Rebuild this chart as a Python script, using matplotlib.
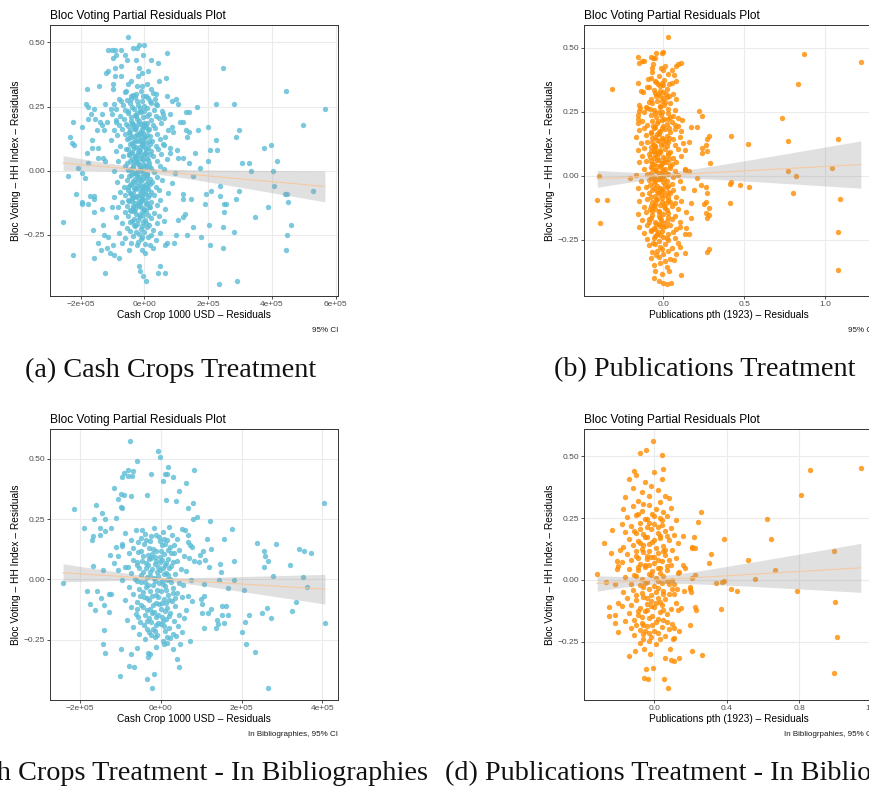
import numpy as np
import matplotlib
matplotlib.use("Agg")
import matplotlib.pyplot as plt

W, H = 870, 790

CYAN = "#5BBCD6"
ORANGE = "#FF8C00"
FIT_LINE = "#F6C9A0"

TITLE = "Bloc Voting Partial Residuals Plot"
YLABEL = "Bloc Voting \u2013 HH Index \u2013 Residuals"
XLABEL_CASH = "Cash Crop 1000 USD \u2013 Residuals"
XLABEL_PUB = "Publications pth (1923) \u2013 Residuals"

# cash crop residuals are typed in units of 1e5 (1000 USD)
X_SCALE_CASH = 1e5

# (a) cash crops, all units
cash_pts = [
    (-0.52, 0.52), (-0.37, 0.48), (-0.22, 0.48), (-0.16, 0.49), (-0.02, 0.49),
    (-1.15, 0.47), (-1.03, 0.47), (-0.92, 0.47), (-0.73, 0.47), (0.71, 0.46),
    (-0.62, 0.45), (-0.97, 0.44), (-0.90, 0.45), (-0.03, 0.45), (-0.54, 0.43),
    (0.20, 0.43), (0.42, 0.42), (-0.27, 0.43), (2.48, 0.40), (-0.73, 0.41),
    (-0.91, 0.40), (-0.18, 0.40), (-1.14, 0.39), (0.10, 0.39), (-1.21, 0.38),
    (-0.92, 0.37), (-0.74, 0.37), (-0.19, 0.37), (-0.08, 0.38), (0.67, 0.36),
    (0.47, 0.35), (-0.42, 0.35), (-0.51, 0.34), (-1.42, 0.33), (-1.00, 0.34),
    (-0.22, 0.33), (-0.07, 0.33), (0.07, 0.34), (0.21, 0.32), (-1.81, 0.32),
    (4.45, 0.31), (-0.57, 0.31), (-1.00, 0.32), (-0.26, 0.30), (0.36, 0.30),
    (-0.03, 0.29), (-0.43, 0.29), (0.70, 0.29), (0.99, 0.28), (-0.43, 0.28),
    (-0.72, 0.27), (0.18, 0.27), (-0.22, 0.27), (0.87, 0.27), (1.05, 0.26),
    (0.36, 0.26), (-1.84, 0.26), (-1.76, 0.25), (-1.25, 0.26), (-1.06, 0.24),
    (2.24, 0.26), (2.82, 0.26), (1.64, 0.25), (5.66, 0.24), (-1.59, 0.24),
    (-1.32, 0.22), (-1.68, 0.22), (1.30, 0.23), (1.41, 0.23), (0.58, 0.22),
    (0.81, 0.22), (-1.78, 0.20), (-1.55, 0.20), (-1.32, 0.18), (-1.39, 0.19),
    (-1.17, 0.19), (-0.90, 0.19), (1.13, 0.19), (1.22, 0.19), (-2.25, 0.19),
    (2.00, 0.17), (4.98, 0.18), (-1.97, 0.17), (-1.50, 0.16), (-1.26, 0.16),
    (1.69, 0.16), (1.29, 0.16), (1.39, 0.15), (0.91, 0.15), (0.75, 0.16),
    (2.98, 0.16), (-2.34, 0.13), (-2.27, 0.11), (-2.22, 0.10), (-1.65, 0.12),
    (1.35, 0.13), (2.24, 0.12), (2.86, 0.13), (3.96, 0.10), (-1.63, 0.09),
    (-1.81, 0.07), (-1.47, 0.09), (0.61, 0.10), (0.79, 0.09), (2.05, 0.08),
    (2.27, 0.08), (3.75, 0.09), (1.02, 0.08), (1.58, 0.07), (1.20, 0.05),
    (1.06, 0.05), (1.41, 0.03), (1.99, 0.04), (3.05, 0.03), (3.29, 0.03),
    (4.17, 0.04), (-1.46, 0.05), (-1.30, 0.05), (-1.24, 0.04), (-1.78, 0.03),
    (-2.08, 0.01), (1.75, 0.01), (3.34, 0.00), (4.02, 0.00), (-2.41, -0.02),
    (-1.96, -0.01), (-1.87, -0.03), (1.52, -0.02), (2.36, -0.06), (4.05, -0.06),
    (5.30, -0.08), (4.40, -0.09), (4.48, -0.09), (2.09, -0.08), (1.92, -0.09),
    (2.96, -0.08), (-2.16, -0.09), (-1.96, -0.12), (-1.97, -0.13), (-1.77, -0.13),
    (-1.72, -0.10), (-1.57, -0.10), (-1.58, -0.11), (2.38, -0.10), (2.87, -0.11),
    (2.50, -0.13), (2.56, -0.13), (4.51, -0.12), (1.91, -0.13), (3.86, -0.14),
    (1.46, -0.11), (1.20, -0.09), (1.20, -0.11), (2.49, -0.16), (3.47, -0.18),
    (-1.58, -0.16), (-1.33, -0.15), (-1.02, -0.14), (1.27, -0.17), (1.20, -0.18),
    (1.05, -0.19), (-2.55, -0.20), (4.61, -0.21), (-1.31, -0.21), (-1.62, -0.23),
    (-1.27, -0.25), (-1.14, -0.26), (1.52, -0.22), (2.02, -0.21), (2.46, -0.22),
    (2.80, -0.24), (1.33, -0.25), (0.99, -0.25), (1.77, -0.26), (4.46, -0.25),
    (-1.46, -0.28), (-0.97, -0.29), (-1.18, -0.30), (-1.36, -0.31), (-1.08, -0.32),
    (-0.71, -0.28), (-0.48, -0.31), (-2.24, -0.33), (-1.59, -0.34), (-0.95, -0.33),
    (-0.81, -0.34), (2.06, -0.29), (2.48, -0.30), (4.45, -0.31), (0.93, -0.28),
    (0.70, -0.28), (0.65, -0.29), (-1.24, -0.40), (-0.16, -0.37), (-0.14, -0.39),
    (-0.03, -0.41), (0.04, -0.43), (0.48, -0.37), (0.42, -0.40), (0.64, -0.40),
    (2.34, -0.44), (2.90, -0.43), (-0.07, -0.31), (0.01, -0.32), (-0.22, -0.29),
    (0.16, -0.29), (0.27, -0.30),
    # central cloud
    (-0.62, 0.305), (-0.35, 0.296), (-0.12, 0.312), (0.05, 0.291), (0.28, 0.303),
    (-0.80, 0.281), (-0.55, 0.276), (-0.30, 0.287), (-0.08, 0.272), (0.12, 0.284),
    (0.33, 0.278), (-0.95, 0.262), (-0.68, 0.255), (-0.45, 0.266), (-0.20, 0.258),
    (0.00, 0.251), (0.22, 0.263), (0.40, 0.257), (-0.88, 0.242), (-0.60, 0.236),
    (-0.38, 0.247), (-0.15, 0.233), (0.08, 0.244), (0.30, 0.238), (0.55, 0.231),
    (-1.02, 0.221), (-0.75, 0.214), (-0.52, 0.226), (-0.28, 0.218), (-0.05, 0.209),
    (0.15, 0.223), (0.36, 0.215), (0.60, 0.206), (-0.90, 0.197), (-0.65, 0.203),
    (-0.42, 0.192), (-0.22, 0.201), (-0.02, 0.188), (0.20, 0.196), (0.45, 0.204),
    (-0.80, 0.178), (-0.58, 0.184), (-0.35, 0.173), (-0.12, 0.181), (0.06, 0.169),
    (0.28, 0.177), (0.52, 0.185), (0.85, 0.172), (-0.95, 0.158), (-0.70, 0.164),
    (-0.48, 0.153), (-0.28, 0.161), (-0.10, 0.149), (0.10, 0.157), (0.32, 0.166),
    (-0.85, 0.138), (-0.62, 0.144), (-0.40, 0.133), (-0.20, 0.141), (-0.02, 0.128),
    (0.18, 0.137), (0.40, 0.145), (0.65, 0.131), (-1.05, 0.118), (-0.55, 0.124),
    (-0.33, 0.113), (-0.15, 0.121), (0.05, 0.109), (0.25, 0.117), (0.48, 0.125),
    (-0.75, 0.098), (-0.45, 0.104), (-0.25, 0.093), (-0.08, 0.101), (0.12, 0.089),
    (0.35, 0.097), (0.58, 0.105), (-0.90, 0.078), (-0.58, 0.084), (-0.38, 0.073),
    (-0.18, 0.081), (0.02, 0.069), (0.20, 0.077), (0.42, 0.085), (0.80, 0.071),
    (-0.68, 0.058), (-0.48, 0.064), (-0.30, 0.053), (-0.12, 0.061), (0.08, 0.049),
    (0.28, 0.057), (0.52, 0.065), (-0.82, 0.038), (-0.40, 0.044), (-0.22, 0.033),
    (-0.05, 0.041), (0.15, 0.029), (0.38, 0.037), (0.70, 0.045), (-0.60, 0.018),
    (-0.35, 0.024), (-0.15, 0.013), (0.02, 0.021), (0.22, 0.009), (0.48, 0.017),
    (-0.95, -0.002), (-0.50, 0.004), (-0.28, -0.007), (-0.10, 0.001), (0.08, -0.011),
    (0.30, -0.003), (0.62, 0.005), (0.95, -0.008), (-0.72, -0.022), (-0.42, -0.016),
    (-0.20, -0.027), (-0.02, -0.019), (0.18, -0.031), (0.40, -0.023), (-0.85, -0.042),
    (-0.55, -0.036), (-0.32, -0.047), (-0.12, -0.039), (0.05, -0.051), (0.25, -0.043),
    (0.55, -0.035), (0.88, -0.048), (-0.65, -0.062), (-0.45, -0.056), (-0.25, -0.067),
    (-0.05, -0.059), (0.12, -0.071), (0.35, -0.063), (-0.78, -0.082), (-0.52, -0.076),
    (-0.35, -0.087), (-0.15, -0.079), (0.02, -0.091), (0.20, -0.083), (0.45, -0.075),
    (0.75, -0.088), (-0.95, -0.102), (-0.60, -0.096), (-0.40, -0.107), (-0.22, -0.099),
    (-0.08, -0.111), (0.10, -0.103), (0.30, -0.095), (-0.70, -0.122), (-0.48, -0.116),
    (-0.30, -0.127), (-0.12, -0.119), (0.05, -0.131), (0.22, -0.123), (0.50, -0.115),
    (-0.82, -0.142), (-0.55, -0.136), (-0.35, -0.147), (-0.18, -0.139), (0.00, -0.151),
    (0.15, -0.143), (0.38, -0.135), (0.65, -0.148), (-0.62, -0.162), (-0.42, -0.156),
    (-0.25, -0.167), (-0.08, -0.159), (0.10, -0.171), (0.30, -0.163), (-0.90, -0.182),
    (-0.50, -0.176), (-0.32, -0.187), (-0.15, -0.179), (0.02, -0.191), (0.20, -0.183),
    (0.45, -0.175), (-0.70, -0.202), (-0.40, -0.196), (-0.22, -0.207), (-0.05, -0.199),
    (0.15, -0.211), (0.38, -0.203), (0.62, -0.195), (-0.55, -0.222), (-0.30, -0.216),
    (-0.10, -0.227), (0.08, -0.219), (0.28, -0.231), (-0.80, -0.242), (-0.45, -0.236),
    (-0.18, -0.247), (0.00, -0.239), (0.20, -0.251), (0.50, -0.243), (-0.60, -0.262),
    (-0.35, -0.256), (-0.12, -0.267), (0.10, -0.259), (0.35, -0.271), (-0.42, -0.282),
    (-0.20, -0.276), (0.02, -0.287),
    (-0.40, 0.185), (-0.31, 0.162), (-0.17, 0.195), (-0.05, 0.171), (0.09, 0.188),
    (-0.44, 0.142), (-0.27, 0.118), (-0.13, 0.152), (0.01, 0.133), (0.13, 0.115),
    (-0.36, 0.096), (-0.21, 0.072), (-0.07, 0.108), (0.06, 0.086), (-0.47, 0.062),
    (-0.33, 0.034), (-0.18, 0.051), (-0.03, 0.022), (0.11, 0.041), (-0.41, 0.007),
    (-0.26, -0.012), (-0.11, 0.011), (0.04, -0.028), (-0.37, -0.041), (-0.19, -0.058),
    (-0.06, -0.032), (0.09, -0.062), (-0.45, -0.088), (-0.29, -0.072), (-0.14, -0.096),
    (0.01, -0.082), (-0.38, -0.118), (-0.23, -0.134), (-0.09, -0.111), (0.07, -0.127),
    (-0.33, -0.158), (-0.17, -0.171), (-0.02, -0.149), (-0.27, 0.212), (-0.10, 0.228),
    (-0.23, 0.145), (-0.15, 0.092), (-0.30, 0.058), (0.00, 0.062), (-0.22, -0.003),
    (-0.08, -0.074), (-0.35, -0.102), (-0.12, -0.143), (-0.20, 0.026), (-0.04, 0.147),
    (-0.51, 0.231), (-0.43, 0.208), (-0.34, 0.239), (-0.24, 0.226), (-0.14, 0.246),
    (-0.01, 0.232), (0.07, 0.214), (-0.53, 0.176), (-0.46, 0.158), (-0.37, 0.181),
    (-0.26, 0.169), (-0.19, 0.183), (-0.09, 0.164), (0.03, 0.179), (0.14, 0.161),
    (-0.49, 0.127), (-0.39, 0.109), (-0.29, 0.137), (-0.21, 0.116), (-0.11, 0.131),
    (-0.04, 0.112), (0.09, 0.138), (0.19, 0.104), (-0.52, 0.083), (-0.43, 0.071),
    (-0.32, 0.088), (-0.24, 0.062), (-0.13, 0.078), (-0.02, 0.094), (0.05, 0.071),
    (0.16, 0.067), (-0.55, 0.029), (-0.45, 0.038), (-0.36, 0.015), (-0.27, 0.041),
    (-0.16, 0.027), (-0.07, 0.046), (0.05, 0.013), (0.13, 0.018), (-0.48, -0.021),
    (-0.39, -0.009), (-0.31, -0.031), (-0.23, -0.018), (-0.13, -0.024), (-0.04, -0.008),
    (0.07, -0.017), (0.17, -0.052), (-0.53, -0.064), (-0.42, -0.053), (-0.33, -0.069),
    (-0.21, -0.044), (-0.11, -0.058), (-0.01, -0.067), (0.10, -0.044), (-0.50, -0.112),
    (-0.41, -0.091), (-0.27, -0.101), (-0.18, -0.118), (-0.06, -0.096), (0.03, -0.114),
    (0.14, -0.094), (-0.46, -0.151), (-0.37, -0.137), (-0.28, -0.149), (-0.14, -0.127),
    (-0.05, -0.171), (0.06, -0.156), (0.18, -0.141), (-0.44, -0.198), (-0.33, -0.211),
    (-0.19, -0.193), (-0.09, -0.216), (0.04, -0.204), (-0.27, -0.239), (-0.06, -0.258),
]

# (b) publications, all units
pub_pts = [
    (0.025, 0.54), (0.87, 0.475), (1.22, 0.445), (-0.32, 0.34), (0.83, 0.356),
    (0.73, 0.224), (0.77, 0.135), (1.08, 0.142), (0.52, 0.122), (0.42, 0.154),
    (0.22, 0.254), (0.24, 0.232), (0.17, 0.19), (0.21, 0.19), (0.16, 0.13),
    (0.13, 0.10), (0.28, 0.154), (0.27, 0.144), (0.26, 0.12), (0.24, 0.11),
    (0.27, 0.095), (0.24, 0.09), (0.29, 0.05), (0.77, 0.02), (1.04, 0.03),
    (0.82, 0.0), (-0.40, 0.0), (-0.21, -0.01), (-0.41, -0.095), (-0.35, -0.095),
    (-0.39, -0.185), (0.42, -0.026), (0.41, -0.034), (0.47, -0.036), (0.53, -0.044),
    (0.80, -0.066), (1.09, -0.092), (0.41, -0.108), (1.08, -0.219), (1.08, -0.367),
    (0.23, -0.036), (0.26, -0.044), (0.19, -0.056), (0.27, -0.067), (0.17, -0.108),
    (0.25, -0.111), (0.26, -0.104), (0.28, -0.127), (0.26, -0.144), (0.28, -0.154),
    (0.27, -0.166), (0.17, -0.166), (0.14, -0.141), (0.14, -0.205), (0.16, -0.228),
    (0.10, -0.199), (0.13, -0.228), (0.28, -0.284), (0.27, -0.297), (0.13, -0.30),
    (0.09, -0.264), (0.10, -0.277), (0.075, -0.306), (0.066, -0.328), (0.033, -0.373),
    (0.108, -0.386), (0.046, -0.417), (0.02, -0.421), (0.21, -0.009), (0.16, 0.018),
    (0.13, 0.022),
    # upper part of the stripe
    (-0.155, 0.464), (-0.13, 0.446), (-0.15, 0.438), (-0.12, 0.448), (-0.075, 0.464),
    (-0.066, 0.459), (-0.048, 0.477), (-0.05, 0.459), (-0.01, 0.478), (0.0, 0.482),
    (-0.064, 0.435), (-0.068, 0.42), (-0.017, 0.42), (-0.004, 0.413), (0.052, 0.413),
    (0.087, 0.435), (0.106, 0.438), (0.075, 0.427), (0.064, 0.394), (0.075, 0.37),
    (0.033, 0.358), (0.004, 0.374), (-0.004, 0.355), (-0.048, 0.364), (-0.037, 0.358),
    (-0.079, 0.381), (-0.095, 0.377), (-0.156, 0.363), (-0.124, 0.328), (-0.035, 0.319),
    (-0.023, 0.329), (0.0, 0.326), (0.017, 0.32), (0.056, 0.319), (0.033, 0.312),
    (0.075, 0.298), (-0.021, 0.312), (-0.044, 0.313), (-0.012, 0.29), (0.002, 0.277),
    (0.01, 0.289), (-0.021, 0.269), (-0.154, 0.277), (-0.151, 0.251), (-0.147, 0.264),
    (-0.158, 0.238), (-0.16, 0.222), (-0.122, 0.249), (-0.102, 0.264), (-0.091, 0.288),
    (-0.075, 0.238), (-0.054, 0.245), (0.039, 0.228), (0.06, 0.232), (0.087, 0.225),
    (0.071, 0.199), (0.112, 0.219),
    (-0.14, 0.33), (-0.10, 0.345), (-0.06, 0.335), (-0.02, 0.352), (0.02, 0.34),
    (0.05, 0.36), (-0.08, 0.30), (-0.04, 0.29), (0.00, 0.305), (0.04, 0.285),
    (-0.11, 0.27), (-0.06, 0.258), (-0.01, 0.248), (0.03, 0.262), (0.07, 0.255),
    (-0.03, 0.39), (-0.07, 0.405), (0.01, 0.43), (-0.05, 0.37), (0.03, 0.395),
    # middle of the stripe
    (-0.16, 0.205), (-0.13, 0.212), (-0.10, 0.198), (-0.07, 0.215), (-0.04, 0.205),
    (-0.01, 0.219), (0.02, 0.201), (0.05, 0.211), (0.09, 0.196), (-0.15, 0.178),
    (-0.12, 0.185), (-0.08, 0.172), (-0.05, 0.189), (-0.02, 0.176), (0.01, 0.183),
    (0.04, 0.171), (0.07, 0.181), (0.11, 0.175), (-0.17, 0.152), (-0.11, 0.158),
    (-0.07, 0.147), (-0.04, 0.161), (-0.01, 0.149), (0.02, 0.157), (0.06, 0.144),
    (0.10, 0.153), (-0.14, 0.128), (-0.10, 0.133), (-0.06, 0.121), (-0.03, 0.137),
    (0.00, 0.125), (0.03, 0.131), (0.07, 0.119), (0.12, 0.128), (-0.16, 0.102),
    (-0.12, 0.108), (-0.08, 0.097), (-0.05, 0.111), (-0.02, 0.099), (0.01, 0.106),
    (0.04, 0.094), (0.09, 0.103), (-0.13, 0.078), (-0.09, 0.083), (-0.06, 0.071),
    (-0.03, 0.087), (0.00, 0.075), (0.03, 0.081), (0.06, 0.069), (0.11, 0.079),
    (-0.15, 0.052), (-0.11, 0.058), (-0.07, 0.047), (-0.04, 0.061), (-0.01, 0.049),
    (0.02, 0.055), (0.05, 0.044), (0.08, 0.053), (-0.12, 0.028), (-0.08, 0.033),
    (-0.05, 0.021), (-0.02, 0.036), (0.01, 0.025), (0.04, 0.031), (0.07, 0.019),
    (0.13, 0.027), (-0.17, 0.004), (-0.10, 0.008), (-0.06, -0.003), (-0.03, 0.011),
    (0.00, -0.001), (0.03, 0.006), (0.06, -0.006), (0.09, 0.003),
    # lower part of the stripe
    (-0.14, -0.022), (-0.09, -0.017), (-0.06, -0.029), (-0.03, -0.014), (0.00, -0.026),
    (0.02, -0.019), (0.05, -0.031), (0.10, -0.022), (-0.16, -0.048), (-0.11, -0.042),
    (-0.07, -0.054), (-0.04, -0.039), (-0.01, -0.051), (0.02, -0.044), (0.06, -0.056),
    (0.12, -0.047), (-0.13, -0.073), (-0.09, -0.067), (-0.05, -0.079), (-0.02, -0.064),
    (0.01, -0.076), (0.04, -0.069), (0.08, -0.081), (-0.15, -0.098), (-0.10, -0.092),
    (-0.07, -0.104), (-0.04, -0.089), (-0.01, -0.101), (0.03, -0.094), (0.07, -0.106),
    (0.11, -0.097), (-0.12, -0.123), (-0.08, -0.117), (-0.05, -0.129), (-0.02, -0.114),
    (0.01, -0.126), (0.05, -0.119), (0.09, -0.131), (-0.16, -0.148), (-0.11, -0.142),
    (-0.07, -0.154), (-0.03, -0.139), (0.00, -0.151), (0.03, -0.144), (0.07, -0.156),
    (-0.13, -0.173), (-0.09, -0.167), (-0.05, -0.179), (-0.02, -0.164), (0.02, -0.176),
    (0.05, -0.169), (0.10, -0.181), (-0.15, -0.198), (-0.10, -0.192), (-0.06, -0.204),
    (-0.03, -0.189), (0.00, -0.201), (0.04, -0.194), (0.08, -0.206), (-0.12, -0.223),
    (-0.08, -0.217), (-0.04, -0.229), (-0.01, -0.214), (0.03, -0.226), (0.06, -0.219),
    (-0.10, -0.248), (-0.06, -0.242), (-0.03, -0.254), (0.00, -0.239), (0.03, -0.251),
    (0.07, -0.244), (-0.09, -0.272), (-0.05, -0.266), (-0.02, -0.279), (0.01, -0.268),
    (0.05, -0.281), (-0.07, -0.298), (-0.04, -0.292), (0.00, -0.304), (0.03, -0.295),
    (-0.08, -0.322), (-0.03, -0.318), (0.01, -0.331), (0.04, -0.325), (-0.06, -0.348),
    (-0.02, -0.342), (0.02, -0.356), (-0.05, -0.372), (-0.01, -0.384), (-0.06, -0.398),
    (-0.03, -0.41), (0.00, -0.418),
    (-0.06, 0.185), (-0.03, 0.163), (0.00, 0.142), (-0.05, 0.118), (-0.02, 0.091),
    (0.01, 0.067), (-0.04, 0.038), (-0.01, 0.014), (-0.06, -0.011), (0.01, -0.037),
    (-0.04, -0.061), (-0.01, -0.086), (-0.05, -0.109), (0.02, -0.134), (-0.03, -0.158),
    (0.00, -0.183), (-0.05, -0.209), (-0.02, -0.232), (-0.07, 0.132), (-0.08, 0.058),
    (-0.07, -0.137), (-0.09, -0.182), (-0.03, 0.248), (0.00, 0.196), (-0.06, 0.095),
    (0.02, 0.115), (-0.02, -0.048), (0.03, -0.081), (-0.08, 0.009), (-0.04, 0.076),
    (-0.085, 0.262), (-0.045, 0.228), (-0.015, 0.236), (0.025, 0.244), (-0.065, 0.195),
    (-0.035, 0.212), (0.005, 0.222), (0.035, 0.188), (-0.08, 0.165), (-0.055, 0.152),
    (-0.025, 0.171), (0.015, 0.137), (0.035, 0.149), (-0.075, 0.114), (-0.045, 0.098),
    (-0.015, 0.121), (0.025, 0.089), (-0.085, 0.072), (-0.055, 0.083), (-0.025, 0.061),
    (0.005, 0.052), (0.035, 0.064), (-0.07, 0.031), (-0.045, 0.017), (-0.015, 0.041),
    (0.015, 0.012), (0.04, 0.038), (-0.08, -0.008), (-0.05, -0.021), (-0.02, -0.004),
    (0.005, -0.013), (0.03, -0.041), (-0.085, -0.038), (-0.06, -0.047), (-0.035, -0.069),
    (-0.005, -0.058), (0.025, -0.063), (-0.075, -0.082), (-0.045, -0.096), (-0.015, -0.074),
    (0.015, -0.107), (0.04, -0.101), (-0.085, -0.128), (-0.06, -0.117), (-0.03, -0.141),
    (0.005, -0.119), (0.03, -0.161), (-0.075, -0.166), (-0.045, -0.187), (-0.015, -0.172),
    (0.015, -0.196), (-0.08, -0.211), (-0.05, -0.236), (-0.02, -0.197), (0.02, -0.241),
    (-0.065, -0.262), (-0.035, -0.221), (-0.01, -0.286), (-0.045, -0.311), (-0.07, 0.285),
    (-0.02, 0.272), (0.02, 0.308), (-0.05, 0.322), (-0.09, 0.345), (-0.01, 0.362),
    (0.03, 0.222), (-0.06, 0.044), (-0.03, -0.012), (-0.01, 0.186), (-0.04, 0.138),
    (0.00, 0.024),
]

# (c) cash crops, units in bibliographies
cash_bib_pts = [
    (-0.76, 0.572), (-0.08, 0.53), (-0.02, 0.508), (-0.59, 0.489), (-0.92, 0.441),
    (-0.81, 0.452), (-0.70, 0.45), (-0.82, 0.427), (-0.96, 0.423), (-0.72, 0.427),
    (-0.25, 0.436), (0.17, 0.464), (0.11, 0.436), (0.16, 0.438), (0.06, 0.407),
    (0.29, 0.423), (0.82, 0.452), (-1.17, 0.377), (-0.98, 0.355), (-1.06, 0.331),
    (-0.92, 0.348), (-0.75, 0.344), (-0.99, 0.30), (-0.96, 0.297), (0.45, 0.365),
    (0.62, 0.399), (0.37, 0.323), (0.12, 0.33), (0.79, 0.315), (0.66, 0.294),
    (-0.34, 0.348), (-1.60, 0.309), (-2.14, 0.29), (-1.45, 0.273), (-1.66, 0.249),
    (-1.39, 0.251), (-1.11, 0.254), (-1.90, 0.213), (-1.67, 0.18), (-1.70, 0.164),
    (-1.51, 0.214), (-1.51, 0.184), (-1.38, 0.202), (-1.23, 0.213), (-1.11, 0.133),
    (-0.96, 0.146), (-1.27, 0.10), (-1.06, 0.098), (-1.16, 0.066), (-1.05, 0.039),
    (-0.82, 0.051), (-1.43, 0.039), (-1.68, 0.055), (-2.42, -0.014), (-1.83, -0.048),
    (-1.58, -0.05), (-1.76, -0.102), (-1.62, -0.128), (-1.49, -0.079), (-1.40, -0.105),
    (-1.28, -0.062), (-1.23, -0.061), (-1.28, -0.134), (-1.41, -0.21), (-1.43, -0.267),
    (-1.39, -0.307), (-0.99, -0.29), (-1.01, -0.40), (-0.78, -0.358), (-0.67, -0.365),
    (-0.59, -0.285), (-0.31, -0.304), (-0.33, -0.322), (-0.28, -0.311), (-0.17, -0.392),
    (-0.35, -0.413), (-0.21, -0.449), (-0.75, -0.309), (0.07, -0.267), (0.16, -0.262),
    (0.31, -0.29), (0.40, -0.331), (0.46, -0.363), (-0.12, -0.279), (0.48, -0.27),
    (0.72, -0.254), (0.38, -0.233), (0.53, -0.218), (1.07, -0.20), (1.37, -0.20),
    (1.41, -0.186), (1.56, -0.181), (1.38, -0.17), (1.17, -0.14), (1.02, -0.141),
    (1.25, -0.124), (1.03, -0.102), (0.77, -0.091), (1.00, -0.081), (1.07, -0.069),
    (1.52, -0.11), (1.60, -0.11), (1.65, -0.146), (1.52, -0.148), (2.02, -0.22),
    (2.07, -0.175), (2.10, -0.268), (2.19, -0.149), (2.33, -0.302), (2.50, -0.141),
    (2.63, -0.117), (2.72, -0.162), (2.64, -0.449), (3.24, -0.13), (3.35, -0.095),
    (4.06, -0.181), (4.04, 0.318), (3.41, 0.124), (3.54, 0.116), (3.71, 0.108),
    (3.20, 0.058), (3.52, 0.011), (3.61, -0.033), (2.56, 0.116), (2.57, 0.095),
    (2.66, 0.075), (2.55, 0.05), (2.77, 0.012), (2.84, 0.146), (2.37, 0.152),
    (2.06, -0.046), (1.81, -0.004), (1.67, -0.035), (1.80, 0.075), (1.76, 0.207),
    (1.56, 0.169), (1.22, 0.243), (1.14, 0.167), (1.25, 0.127), (1.04, 0.119),
    (0.96, 0.102), (1.18, 0.05), (1.46, 0.065), (1.49, 0.03), (1.45, -0.004),
    (0.90, 0.26), (0.80, 0.25), (1.08, 0.081), (0.94, 0.07), (0.83, 0.076),
    (0.73, 0.144), (0.77, 0.135), (0.68, 0.185), (0.60, 0.204), (1.07, -0.021),
    # central cloud
    (-0.88, 0.192), (-0.62, 0.205), (-0.40, 0.187), (-0.18, 0.211), (0.05, 0.196),
    (0.28, 0.183), (0.52, 0.208), (-0.75, 0.165), (-0.50, 0.172), (-0.28, 0.158),
    (-0.05, 0.176), (0.15, 0.161), (0.40, 0.169), (0.66, 0.156), (-0.95, 0.138),
    (-0.68, 0.131), (-0.42, 0.145), (-0.20, 0.127), (0.02, 0.141), (0.22, 0.134),
    (0.46, 0.122), (-0.80, 0.108), (-0.56, 0.115), (-0.33, 0.101), (-0.12, 0.119),
    (0.08, 0.104), (0.32, 0.111), (0.58, 0.097), (-0.70, 0.082), (-0.47, 0.076),
    (-0.25, 0.089), (-0.03, 0.071), (0.18, 0.085), (0.40, 0.078), (0.70, 0.088),
    (-0.88, 0.052), (-0.60, 0.059), (-0.38, 0.045), (-0.15, 0.063), (0.05, 0.048),
    (0.26, 0.055), (0.50, 0.041), (-0.75, 0.026), (-0.50, 0.019), (-0.28, 0.032),
    (-0.07, 0.014), (0.13, 0.028), (0.35, 0.021), (0.62, 0.033), (-0.95, -0.004),
    (-0.64, 0.003), (-0.40, -0.011), (-0.18, 0.007), (0.02, -0.008), (0.22, 0.001),
    (0.45, -0.015), (0.75, -0.002), (-0.80, -0.031), (-0.55, -0.038), (-0.32, -0.025),
    (-0.10, -0.043), (0.10, -0.028), (0.30, -0.035), (0.55, -0.022), (-0.68, -0.061),
    (-0.45, -0.054), (-0.22, -0.068), (0.00, -0.049), (0.18, -0.063), (0.40, -0.056),
    (0.68, -0.071), (-0.90, -0.085), (-0.58, -0.092), (-0.35, -0.078), (-0.13, -0.097),
    (0.07, -0.082), (0.28, -0.089), (0.52, -0.075), (-0.75, -0.115), (-0.50, -0.108),
    (-0.27, -0.122), (-0.05, -0.104), (0.15, -0.119), (0.36, -0.111), (0.62, -0.126),
    (-0.62, -0.142), (-0.40, -0.149), (-0.18, -0.135), (0.03, -0.155), (0.22, -0.139),
    (0.45, -0.146), (-0.85, -0.168), (-0.52, -0.175), (-0.30, -0.161), (-0.08, -0.182),
    (0.12, -0.166), (0.32, -0.173), (0.58, -0.159), (-0.68, -0.198), (-0.42, -0.191),
    (-0.20, -0.205), (0.00, -0.187), (0.20, -0.201), (0.42, -0.194), (-0.55, -0.225),
    (-0.30, -0.218), (-0.10, -0.232), (0.10, -0.214), (0.30, -0.228), (-0.40, -0.248),
    (-0.15, -0.241), (0.05, -0.255), (0.22, -0.245),
    (-0.45, 0.098), (-0.30, 0.128), (-0.15, 0.094), (0.00, 0.117), (0.12, 0.068),
    (-0.38, 0.066), (-0.22, 0.041), (-0.08, 0.052), (0.07, 0.024), (0.20, 0.045),
    (-0.50, -0.012), (-0.34, 0.008), (-0.20, -0.022), (-0.04, -0.014), (0.12, -0.045),
    (-0.42, -0.072), (-0.27, -0.048), (-0.12, -0.066), (0.04, -0.098), (0.20, -0.086),
    (-0.35, -0.128), (-0.20, -0.105), (-0.06, -0.146), (0.09, -0.132), (-0.25, -0.178),
    (-0.12, -0.158), (0.05, -0.172), (-0.30, 0.085), (-0.10, 0.032), (0.02, 0.082),
    (-0.55, 0.045), (-0.25, 0.178), (-0.02, 0.158), (0.15, -0.002), (-0.35, -0.205),
    (0.30, -0.055), (-0.60, -0.122), (0.25, 0.108), (-0.15, -0.215), (0.10, 0.148),
    (-0.57, 0.153), (-0.36, 0.162), (-0.12, 0.185), (0.08, 0.168), (0.33, 0.142),
    (-0.48, 0.118), (-0.23, 0.106), (-0.02, 0.092), (0.18, 0.122), (-0.58, 0.072),
    (-0.33, 0.058), (-0.11, 0.078), (0.10, 0.061), (0.30, 0.072), (-0.45, 0.031),
    (-0.26, 0.014), (-0.03, 0.038), (0.17, 0.016), (-0.60, -0.005), (-0.38, -0.032),
    (-0.15, -0.007), (0.06, -0.021), (0.26, -0.012), (-0.52, -0.068), (-0.30, -0.085),
    (-0.08, -0.072), (0.13, -0.098), (0.34, -0.078), (-0.44, -0.115), (-0.22, -0.141),
    (0.00, -0.121), (0.19, -0.152), (-0.57, -0.158), (-0.35, -0.172), (-0.13, -0.188),
    (0.08, -0.195), (-0.25, -0.231), (0.15, -0.238), (-0.47, 0.205), (0.20, 0.215),
]

# (d) publications, units in bibliographies
pub_bib_pts = [
    (-0.006, 0.561), (-0.08, 0.512), (-0.045, 0.526), (0.045, 0.504), (0.857, 0.446),
    (1.14, 0.453), (0.81, 0.342), (0.62, 0.248), (0.646, 0.164), (0.994, 0.116),
    (0.516, 0.082), (0.666, 0.039), (0.557, 0.004), (0.384, 0.164), (0.314, 0.106),
    (0.304, 0.067), (0.26, 0.274), (0.24, 0.233), (0.22, 0.175), (0.21, 0.133),
    (0.206, 0.128), (0.223, 0.129), (0.161, 0.177), (-0.315, 0.023), (-0.267, -0.008),
    (-0.215, -0.018), (-0.278, 0.151), (-0.239, 0.108), (-0.234, 0.201), (-0.206, 0.075),
    (-0.208, 0.043), (-0.189, 0.119), (-0.202, 0.057), (-0.249, -0.109), (-0.252, -0.146),
    (-0.219, -0.143), (-0.219, -0.177), (-0.202, -0.212), (-0.198, -0.094), (-0.139, -0.31),
    (-0.104, -0.29), (-0.058, -0.282), (-0.022, -0.302), (-0.009, -0.358), (-0.043, -0.36),
    (-0.058, -0.398), (-0.037, -0.403), (0.056, -0.402), (0.076, -0.437), (0.061, -0.317),
    (0.095, -0.323), (0.109, -0.33), (0.134, -0.317), (0.089, -0.28), (0.102, -0.239),
    (0.108, -0.235), (0.208, -0.288), (0.263, -0.305), (0.195, -0.183), (0.137, -0.206),
    (0.109, -0.197), (0.224, -0.112), (0.232, -0.123), (0.15, -0.113), (0.371, -0.117),
    (0.165, -0.047), (0.195, -0.038), (0.204, -0.049), (0.199, -0.03), (0.338, -0.012),
    (0.375, -0.009), (0.386, -0.003), (0.421, -0.039), (0.455, -0.044), (0.226, 0.019),
    (0.206, 0.009), (0.79, -0.047), (1.0, -0.09), (1.006, -0.233), (0.99, -0.377),
    (0.16, 0.059), (0.134, 0.031), (0.172, 0.046), (0.111, -0.018), (0.124, -0.036),
    (0.096, -0.039),
    # central cloud
    (-0.17, 0.285), (-0.12, 0.298), (-0.07, 0.279), (-0.03, 0.303), (0.01, 0.288),
    (0.05, 0.275), (0.09, 0.292), (-0.15, 0.255), (-0.10, 0.262), (-0.05, 0.248),
    (-0.01, 0.268), (0.03, 0.252), (0.07, 0.259), (0.12, 0.244), (-0.18, 0.225),
    (-0.13, 0.218), (-0.08, 0.232), (-0.04, 0.214), (0.00, 0.228), (0.04, 0.221),
    (0.09, 0.208), (-0.16, 0.192), (-0.11, 0.199), (-0.06, 0.185), (-0.02, 0.204),
    (0.02, 0.189), (0.06, 0.196), (0.11, 0.181), (-0.14, 0.165), (-0.09, 0.158),
    (-0.05, 0.172), (-0.01, 0.154), (0.03, 0.168), (0.08, 0.161), (0.13, 0.148),
    (-0.17, 0.132), (-0.12, 0.139), (-0.07, 0.125), (-0.03, 0.144), (0.01, 0.129),
    (0.05, 0.136), (0.10, 0.121), (-0.15, 0.105), (-0.10, 0.098), (-0.06, 0.112),
    (-0.02, 0.094), (0.02, 0.108), (0.06, 0.101), (0.12, 0.088), (-0.18, 0.072),
    (-0.13, 0.079), (-0.08, 0.065), (-0.04, 0.084), (0.00, 0.069), (0.04, 0.076),
    (0.09, 0.061), (-0.14, 0.045), (-0.09, 0.038), (-0.05, 0.052), (-0.01, 0.034),
    (0.03, 0.048), (0.07, 0.041), (0.13, 0.028), (-0.16, 0.012), (-0.11, 0.019),
    (-0.07, 0.005), (-0.03, 0.024), (0.01, 0.009), (0.05, 0.016), (0.10, 0.001),
    (-0.13, -0.015), (-0.08, -0.022), (-0.04, -0.008), (0.00, -0.026), (0.04, -0.012),
    (0.08, -0.019), (-0.17, -0.048), (-0.12, -0.041), (-0.07, -0.055), (-0.03, -0.036),
    (0.01, -0.051), (0.05, -0.044), (0.11, -0.059), (-0.15, -0.075), (-0.10, -0.082),
    (-0.06, -0.068), (-0.02, -0.087), (0.02, -0.072), (0.06, -0.079), (0.12, -0.092),
    (-0.18, -0.108), (-0.13, -0.101), (-0.08, -0.115), (-0.04, -0.096), (0.00, -0.111),
    (0.04, -0.104), (0.09, -0.119), (-0.14, -0.135), (-0.09, -0.142), (-0.05, -0.128),
    (-0.01, -0.147), (0.03, -0.132), (0.07, -0.139), (0.13, -0.124), (-0.16, -0.168),
    (-0.11, -0.161), (-0.07, -0.175), (-0.03, -0.156), (0.01, -0.171), (0.05, -0.164),
    (0.10, -0.179), (-0.13, -0.195), (-0.08, -0.202), (-0.04, -0.188), (0.00, -0.207),
    (0.04, -0.192), (0.08, -0.199), (-0.11, -0.225), (-0.06, -0.218), (-0.02, -0.232),
    (0.02, -0.214), (0.06, -0.228), (-0.08, -0.255), (-0.03, -0.248), (0.01, -0.262),
    (-0.14, 0.41), (-0.10, 0.425), (-0.05, 0.395), (0.00, 0.435), (0.04, 0.41),
    (-0.12, 0.37), (-0.07, 0.355), (-0.02, 0.38), (0.02, 0.365), (0.06, 0.34),
    (-0.16, 0.335), (-0.09, 0.32), (-0.03, 0.34), (0.03, 0.315), (0.08, 0.33),
    (0.05, 0.45), (-0.11, 0.44),
    (-0.06, 0.142), (-0.03, 0.118), (0.00, 0.092), (-0.05, 0.058), (-0.02, 0.02),
    (0.02, -0.003), (-0.06, -0.031), (-0.02, -0.062), (0.01, -0.094), (-0.04, -0.121),
    (-0.07, -0.152), (-0.01, -0.182), (0.03, 0.178), (-0.08, 0.205), (-0.04, 0.245),
    (0.02, 0.046), (-0.09, 0.088), (0.05, -0.058), (-0.05, -0.208), (0.06, 0.122),
    (-0.09, 0.265), (-0.03, 0.232), (0.04, 0.241), (-0.10, 0.188), (-0.04, 0.175),
    (0.02, 0.212), (0.07, 0.178), (-0.08, 0.148), (0.00, 0.162), (0.05, 0.115),
    (-0.10, 0.118), (-0.04, 0.098), (0.02, 0.079), (0.08, 0.082), (-0.09, 0.052),
    (-0.03, 0.061), (0.03, 0.028), (0.07, 0.055), (-0.10, 0.015), (-0.05, -0.012),
    (0.02, -0.035), (0.07, -0.004), (-0.10, -0.062), (-0.04, -0.075), (0.03, -0.088),
    (0.08, -0.058), (-0.09, -0.128), (-0.02, -0.108), (0.05, -0.121), (-0.06, -0.182),
    (0.02, -0.158), (0.07, -0.172), (-0.10, -0.185), (-0.03, -0.215), (0.03, -0.238),
    (-0.06, -0.24), (0.00, 0.258), (-0.06, 0.306),
]

# linear fit: intercept, slope, band half-width at the centre and its growth
cash_fit = (0.002, -1.11e-7, 0.010, 1.05e-7)
pub_fit = (0.0018, 0.0344, 0.012, 0.075)
cash_bib_fit = (0.0017, -1.05e-7, 0.008, 1.5e-7)
pub_bib_fit = (-0.001, 0.0434, 0.016, 0.086)

cash_ticks = [-2e5, 0, 2e5, 4e5, 6e5]
cash_ticklabels = ["\u22122e+05", "0e+00", "2e+05", "4e+05", "6e+05"]
cash_bib_ticks = [-2e5, 0, 2e5, 4e5]
cash_bib_ticklabels = ["\u22122e+05", "0e+00", "2e+05", "4e+05"]
pub_ticks = [0.0, 0.5, 1.0]
pub_ticklabels = ["0.0", "0.5", "1.0"]
pub_bib_ticks = [0.0, 0.4, 0.8, 1.2]
pub_bib_ticklabels = ["0.0", "0.4", "0.8", "1.2"]
y_ticks = [-0.25, 0.0, 0.25, 0.50]
y_ticklabels = ["\u22120.25", "0.00", "0.25", "0.50"]

plt.rcParams["font.family"] = ["Liberation Sans", "DejaVu Sans"]


def fig_box(left, top, width, height):
    """pixel box (from top-left) -> figure fraction rect"""
    return [left / W, 1 - (top + height) / H, width / W, height / H]


def draw_panel(fig, box, pts, x_scale, fit, color, ticks, ticklabels, xlabel):
    ax = fig.add_axes(fig_box(*box))
    x = np.array([p[0] for p in pts]) * x_scale
    y = np.array([p[1] for p in pts])
    ax.scatter(x, y, s=15, color=color, alpha=0.8, linewidths=0, zorder=2)

    b0, b1, se0, se1 = fit
    xs = np.linspace(x.min(), x.max(), 200)
    fit_y = b0 + b1 * xs
    half = np.sqrt(se0 ** 2 + (se1 * xs) ** 2)
    ax.fill_between(xs, fit_y - half, fit_y + half, color="#999999", alpha=0.3,
                    linewidth=0, zorder=3)
    ax.plot(xs, fit_y, color=FIT_LINE, linewidth=0.8, zorder=4)

    ax.set_xticks(ticks)
    ax.set_xticklabels(ticklabels)
    ax.set_yticks(y_ticks)
    ax.set_yticklabels(y_ticklabels)
    ax.margins(0.05)
    ax.grid(True, color="#EBEBEB", linewidth=0.8)
    ax.set_axisbelow(True)
    for s in ax.spines.values():
        s.set_color("#333333")
        s.set_linewidth(0.7)
    ax.tick_params(length=2.2, width=0.6, color="#333333", labelsize=6.0,
                   labelcolor="#4D4D4D", pad=1.5)
    ax.set_title(TITLE, loc="left", fontsize=8.6, pad=4)
    ax.set_xlabel(xlabel, fontsize=7.3, labelpad=1.2)
    ax.set_ylabel(YLABEL, fontsize=7.3, labelpad=2)
    return ax


def main():
    fig = plt.figure(figsize=(W / 100, H / 100), dpi=100)

    draw_panel(fig, (50, 25, 288, 271), cash_pts, X_SCALE_CASH, cash_fit, CYAN,
               cash_ticks, cash_ticklabels, XLABEL_CASH)
    draw_panel(fig, (584, 25, 290, 271), pub_pts, 1.0, pub_fit, ORANGE,
               pub_ticks, pub_ticklabels, XLABEL_PUB)
    draw_panel(fig, (50, 429, 288, 271), cash_bib_pts, X_SCALE_CASH, cash_bib_fit, CYAN,
               cash_bib_ticks, cash_bib_ticklabels, XLABEL_CASH)
    draw_panel(fig, (584, 429, 290, 271), pub_bib_pts, 1.0, pub_bib_fit, ORANGE,
               pub_bib_ticks, pub_bib_ticklabels, XLABEL_PUB)

    # small captions under each panel
    cap = dict(fontsize=5.8, ha="right", va="center", color="#1A1A1A")
    fig.text(338 / W, 1 - 330 / H, "95% CI", **cap)
    fig.text(874 / W, 1 - 330 / H, "95% CI", **cap)
    fig.text(338 / W, 1 - 734 / H, "In Bibliographies, 95% CI", **cap)
    fig.text(874 / W, 1 - 734 / H, "In Bibliogrpahies, 95% CI", **cap)

    # sub-figure captions
    sub = dict(fontsize=20.3, family=["Liberation Serif", "DejaVu Serif"],
               va="center", color="#111111")
    fig.text(171 / W, 1 - 370 / H, "(a) Cash Crops Treatment", ha="center", **sub)
    fig.text(705 / W, 1 - 370 / H, "(b) Publications Treatment", ha="center", **sub)
    fig.text(428 / W, 1 - 773 / H, "(c) Cash Crops Treatment - In Bibliographies",
             ha="right", **sub)
    fig.text(445 / W, 1 - 773 / H, "(d) Publications Treatment - In Bibliographies",
             ha="left", **sub)

    fig.savefig("out.png", dpi=100)


if __name__ == "__main__":
    main()
